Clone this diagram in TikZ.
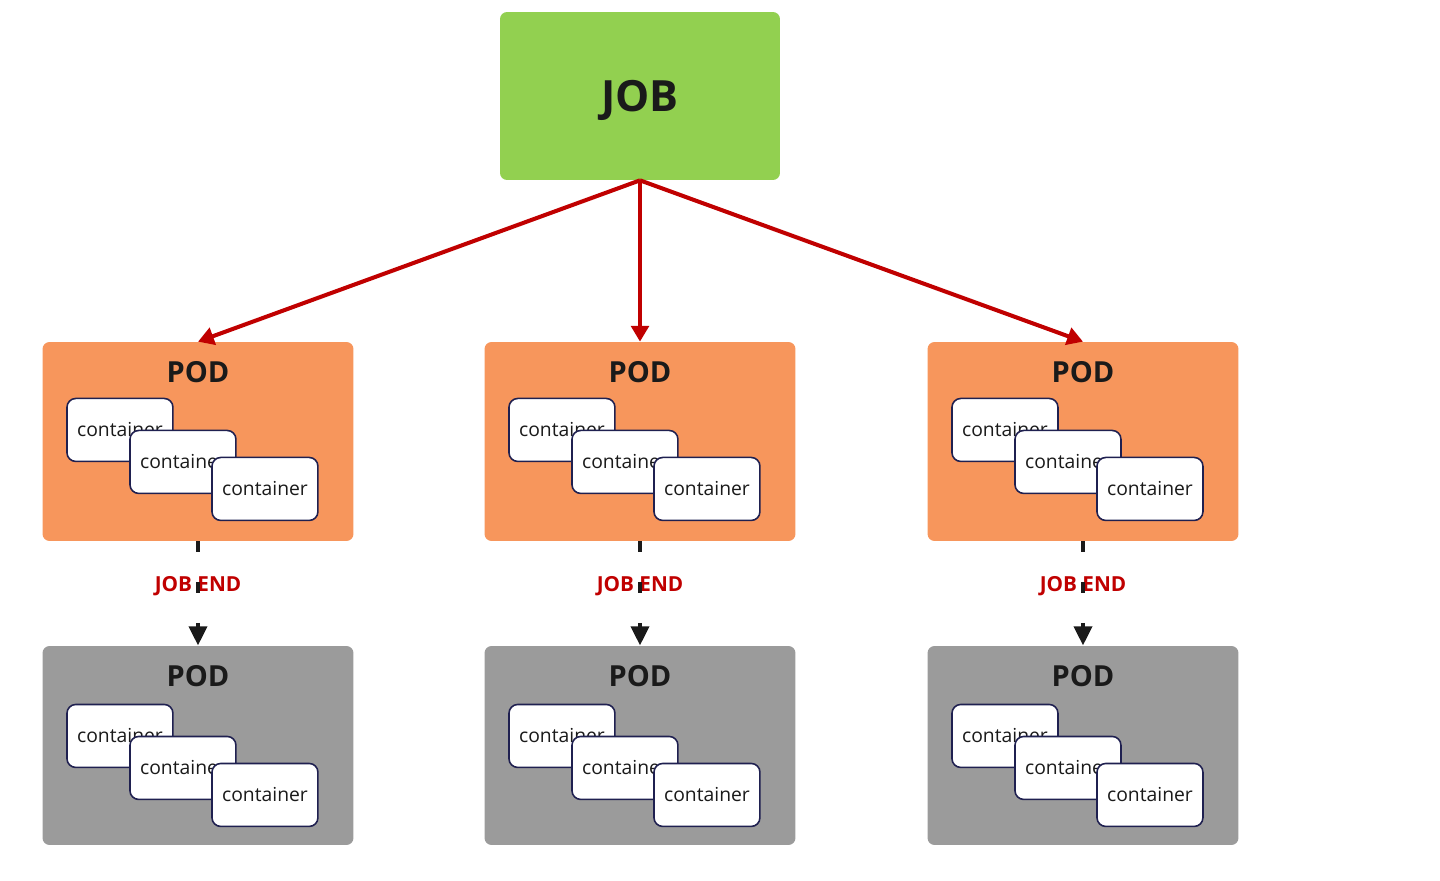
\documentclass[tikz,border=0pt]{standalone}
\usepackage{fontspec}
\setmainfont{Open Sans}
\usetikzlibrary{arrows.meta}

\definecolor{jobgreen}{HTML}{92D050}
\definecolor{podorange}{HTML}{F7965C}
\definecolor{podgray}{HTML}{9B9B9B}
\definecolor{endred}{HTML}{C00000}
\definecolor{boxline}{HTML}{1F2050}
\definecolor{inkblack}{HTML}{1A1A1A}

\tikzset{
  jobbox/.style={fill=jobgreen, rounded corners=4pt, minimum width=5.6cm,
    minimum height=3.36cm, text depth=0pt, text=inkblack,
    font=\bfseries\fontsize{24.5}{28}\selectfont},
  podbox/.style={rounded corners=4pt, minimum width=6.22cm, minimum height=3.98cm},
  podlabel/.style={text=inkblack, font=\bfseries\fontsize{16.5}{20}\selectfont},
  ctbox/.style={draw=boxline, line width=0.9pt, fill=white, rounded corners=5pt,
    minimum width=2.12cm, minimum height=1.26cm, inner sep=0pt, anchor=north west,
    text=inkblack, font=\fontsize{11}{13}\selectfont},
  spawn/.style={endred, line width=2.3pt, -{Triangle[length=9pt,width=10pt]}},
  podend/.style={inkblack, line width=2.8pt, dash pattern=on 6.2pt off 17pt,
    -{Triangle[length=11pt,width=10pt]}},
  endlabel/.style={text=endred, font=\bfseries\fontsize{11.8}{14}\selectfont}
}

\begin{document}
\begin{tikzpicture}[x=0.02cm, y=-0.02cm]
    \useasboundingbox (0,0) rectangle (1440,881);
    % Job
    \node[jobbox] (job) at (640,96) {JOB};
    % Pods, one column each
    \foreach \i/\cx in {1/198, 2/640, 3/1083} {
      % running pod
      \node[podbox, fill=podorange] (pod\i) at (\cx,441.5) {};
      \node[podlabel] (podt\i) at (\cx,372) {POD};
      \node[ctbox] (ca\i) at ([shift={(24,56)}]pod\i.north west) {container};
      \node[ctbox] (cb\i) at ([shift={(87,88)}]pod\i.north west) {container};
      \node[ctbox] (cc\i) at ([shift={(169,115)}]pod\i.north west) {container};
      % finished pod
      \node[podbox, fill=podgray] (gpod\i) at (\cx,745.5) {};
      \node[podlabel] (gpodt\i) at (\cx,676) {POD};
      \node[ctbox] (gca\i) at ([shift={(24,58)}]gpod\i.north west) {container};
      \node[ctbox] (gcb\i) at ([shift={(87,90)}]gpod\i.north west) {container};
      \node[ctbox] (gcc\i) at ([shift={(169,117)}]gpod\i.north west) {container};
      % job end
      \node[endlabel] (end\i) at (\cx,586) {JOB END};
      \draw[podend] (pod\i.south) -- (gpod\i.north);
      % job spawns pod
      \draw[spawn] (job.south) -- (pod\i.north);
    }
\end{tikzpicture}
\end{document}
